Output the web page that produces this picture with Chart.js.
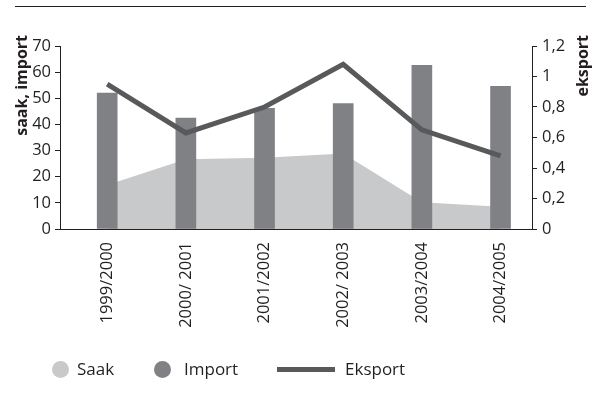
<!DOCTYPE html>
<html>
<head>
<meta charset="utf-8">
<script src="https://cdn.jsdelivr.net/npm/chart.js@4"></script>
<style>
  body { margin: 0; background: #fff; }
  #wrap { position: relative; width: 593px; height: 408px; font-family: "Open Sans", sans-serif; color: #231f20; }
  #rule { position: absolute; left: 15px; top: 6px; width: 571px; height: 1px; background: #231f20; }
  .lg { position: absolute; top: 358px; font-size: 17px; line-height: 22px; }
  .dot { position: absolute; width: 17px; height: 17px; border-radius: 50%; top: 361px; }
  .bar { position: absolute; height: 5px; top: 367px; background: #58595b; }
</style>
</head>
<body>
<div id="wrap">
  <canvas id="c" width="593" height="408"></canvas>
  <div id="rule"></div>
  <div class="dot" style="left:52px;background:#c8c9cb"></div>
  <div class="lg" style="left:77px">Saak</div>
  <div class="dot" style="left:154px;background:#808184"></div>
  <div class="lg" style="left:184px">Import</div>
  <div class="bar" style="left:277px;width:58px"></div>
  <div class="lg" style="left:345px">Eksport</div>
</div>
<script>
'use strict'

// data
const categories = ['1999/2000', '2000/ 2001', '2001/2002', '2002/ 2003', '2003/2004', '2004/2005'];
const saak = [16.8, 26.7, 27.3, 28.9, 10.2, 8.5];
const importValues = [52, 42.4, 46.2, 48, 62.6, 54.6];
const eksport = [0.95, 0.63, 0.80, 1.08, 0.65, 0.48];
const leftTicks = [0, 10, 20, 30, 40, 50, 60, 70];
const rightTicks = [0, 0.2, 0.4, 0.6, 0.8, 1, 1.2];
const rightTickLabels = ['0', '0,2', '0,4', '0,6', '0,8', '1', '1,2'];
const leftTitle = 'saak, import';
const rightTitle = 'eksport';

const ink = '#231f20';
const tickFont = { family: '"Open Sans"', size: 16.5 };

function points(values) {
  return values.map((v, i) => ({ x: i, y: v }));
}

// axis titles sit at the top of each axis
const axisTitles = {
  id: 'axisTitles',
  afterDraw(chart) {
    const ctx = chart.ctx;
    ctx.save();
    ctx.font = 'bold 16px "Open Sans"';
    ctx.fillStyle = ink;
    ctx.textAlign = 'right';
    ctx.textBaseline = 'middle';
    [[leftTitle, 22], [rightTitle, 583]].forEach(([t, x]) => {
      ctx.save();
      ctx.translate(x, 35);
      ctx.rotate(-Math.PI / 2);
      ctx.fillText(t, 0, 0);
      ctx.restore();
    });
    ctx.restore();
  }
};

const data = {
  datasets: [
    {
      type: 'line',
      label: 'Saak',
      data: points(saak),
      yAxisID: 'y',
      fill: 'origin',
      backgroundColor: '#c8c9cb',
      borderWidth: 0,
      pointRadius: 0,
      tension: 0,
      order: 3
    },
    {
      type: 'bar',
      label: 'Import',
      data: points(importValues),
      yAxisID: 'y',
      backgroundColor: '#808184',
      barThickness: 20,
      order: 2
    },
    {
      type: 'line',
      label: 'Eksport',
      data: points(eksport),
      yAxisID: 'y1',
      borderColor: '#58595b',
      borderWidth: 5,
      borderCapStyle: 'butt',
      pointRadius: 0,
      tension: 0,
      fill: false,
      order: 1
    }
  ]
};

const config = {
  type: 'bar',
  data: data,
  options: {
    responsive: false,
    animation: false,
    events: [],
    layout: { padding: { top: 46, left: 0, right: 0, bottom: 0 } },
    plugins: { legend: { display: false }, tooltip: { enabled: false } },
    scales: {
      x: {
        type: 'linear',
        min: -0.6,
        max: 5.4,
        offset: false,
        afterBuildTicks: s => { s.ticks = categories.map((c, i) => ({ value: i })); },
        afterFit: s => { s.height = 179; },
        grid: { drawOnChartArea: false, drawTicks: false },
        border: { color: ink, width: 1 },
        ticks: {
          autoSkip: false,
          minRotation: 90,
          maxRotation: 90,
          padding: 13,
          color: ink,
          font: tickFont,
          callback: v => categories[v]
        }
      },
      y: {
        position: 'left',
        min: 0,
        max: 70,
        afterBuildTicks: s => { s.ticks = leftTicks.map(v => ({ value: v })); },
        afterFit: s => { s.width = 60; },
        grid: { drawOnChartArea: false, tickLength: 5, color: ink },
        border: { color: ink, width: 1 },
        ticks: { padding: 4, color: ink, font: tickFont }
      },
      y1: {
        position: 'right',
        min: 0,
        max: 1.2,
        afterBuildTicks: s => { s.ticks = rightTicks.map(v => ({ value: v })); },
        afterFit: s => { s.width = 61; },
        grid: { drawOnChartArea: false, tickLength: 5, color: ink },
        border: { color: ink, width: 1 },
        ticks: {
          padding: 5,
          color: ink,
          font: tickFont,
          callback: (v, i) => rightTickLabels[i]
        }
      }
    }
  },
  plugins: [axisTitles]
};

const myChart = new Chart(document.getElementById('c'), config);
</script>
</body>
</html>
